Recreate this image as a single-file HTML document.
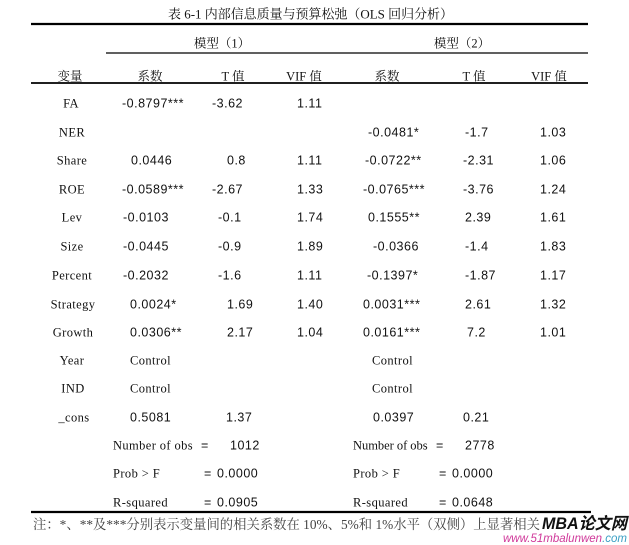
<!DOCTYPE html>
<html><head><meta charset="utf-8"><style>
html,body{margin:0;padding:0;background:#fff;}
svg{display:block;}
.s{font-family:"Liberation Serif","Noto Serif CJK SC",serif;font-size:12.5px;fill:#111;letter-spacing:0.4px;}
.c{font-family:"Liberation Serif","Noto Serif CJK SC",serif;font-size:12.5px;fill:#111;}
.n{font-family:"Liberation Sans",sans-serif;font-size:12.5px;fill:#111;letter-spacing:0.5px;}
.t{font-family:"Liberation Serif","Noto Serif CJK SC",serif;font-size:13px;fill:#111;}
.note{font-family:"Liberation Serif","Noto Serif CJK SC",serif;font-size:13.5px;fill:#444;}
</style></head><body>
<svg width="629" height="545" viewBox="0 0 629 545" xmlns="http://www.w3.org/2000/svg">
<rect width="629" height="545" fill="#fff"/>
<text class="t" x="168" y="18.5" textLength="285" lengthAdjust="spacingAndGlyphs">表 6-1 内部信息质量与预算松弛（OLS 回归分析）</text>
<line x1="31" y1="24" x2="588" y2="24" stroke="#000" stroke-width="2.2"/>
<text class="c" x="222" y="47.5" text-anchor="middle">模型（1）</text>
<text class="c" x="462" y="47.5" text-anchor="middle">模型（2）</text>
<line x1="106" y1="53" x2="588" y2="53" stroke="#000" stroke-width="1.3"/>
<text class="c" x="70" y="80.5" text-anchor="middle">变量</text>
<text class="c" x="150" y="80.5" text-anchor="middle">系数</text>
<text class="c" x="233" y="80.5" text-anchor="middle">T 值</text>
<text class="c" x="304" y="80.5" text-anchor="middle">VIF 值</text>
<text class="c" x="387" y="80.5" text-anchor="middle">系数</text>
<text class="c" x="474" y="80.5" text-anchor="middle">T 值</text>
<text class="c" x="549" y="80.5" text-anchor="middle">VIF 值</text>
<line x1="31" y1="83" x2="588" y2="83" stroke="#000" stroke-width="1.7"/>

<g class="s" text-anchor="middle">
<text x="71" y="107.5">FA</text>
<text x="72" y="136.5">NER</text>
<text x="72" y="164.5">Share</text>
<text x="72" y="193.5">ROE</text>
<text x="72" y="221.5">Lev</text>
<text x="72" y="250.5">Size</text>
<text x="72" y="279.5">Percent</text>
<text x="73" y="308.5">Strategy</text>
<text x="73" y="336.5">Growth</text>
<text x="72" y="364.5">Year</text>
<text x="73" y="392.5">IND</text>
<text x="74" y="421.5">_cons</text>
</g>

<g class="n">
<text x="122" y="107.5">-0.8797***</text>
<text x="131" y="164.5">0.0446</text>
<text x="122" y="193.5">-0.0589***</text>
<text x="123" y="221.5">-0.0103</text>
<text x="123" y="250.5">-0.0445</text>
<text x="123" y="279.5">-0.2032</text>
<text x="130" y="308.5">0.0024*</text>
<text x="130" y="336.5">0.0306**</text>
<text x="130" y="421.5">0.5081</text>
</g>
<text class="s" x="130" y="364.5">Control</text>
<text class="s" x="130" y="392.5">Control</text>

<g class="n">
<text x="212" y="107.5">-3.62</text>
<text x="227" y="164.5">0.8</text>
<text x="212" y="193.5">-2.67</text>
<text x="218" y="221.5">-0.1</text>
<text x="218" y="250.5">-0.9</text>
<text x="218" y="279.5">-1.6</text>
<text x="227" y="308.5">1.69</text>
<text x="227" y="336.5">2.17</text>
<text x="226" y="421.5">1.37</text>
</g>

<g class="n">
<text x="297" y="107.5">1.11</text>
<text x="297" y="164.5">1.11</text>
<text x="297" y="193.5">1.33</text>
<text x="297" y="221.5">1.74</text>
<text x="297" y="250.5">1.89</text>
<text x="297" y="279.5">1.11</text>
<text x="297" y="308.5">1.40</text>
<text x="297" y="336.5">1.04</text>
</g>

<g class="n">
<text x="368" y="136.5">-0.0481*</text>
<text x="365" y="164.5">-0.0722**</text>
<text x="363" y="193.5">-0.0765***</text>
<text x="368" y="221.5">0.1555**</text>
<text x="373" y="250.5">-0.0366</text>
<text x="367" y="279.5">-0.1397*</text>
<text x="363" y="308.5">0.0031***</text>
<text x="363" y="336.5">0.0161***</text>
<text x="373" y="421.5">0.0397</text>
</g>
<text class="s" x="372" y="364.5">Control</text>
<text class="s" x="372" y="392.5">Control</text>

<g class="n">
<text x="465" y="136.5">-1.7</text>
<text x="463" y="164.5">-2.31</text>
<text x="463" y="193.5">-3.76</text>
<text x="465" y="221.5">2.39</text>
<text x="465" y="250.5">-1.4</text>
<text x="465" y="279.5">-1.87</text>
<text x="465" y="308.5">2.61</text>
<text x="467" y="336.5">7.2</text>
<text x="463" y="421.5">0.21</text>
</g>

<g class="n">
<text x="540" y="136.5">1.03</text>
<text x="540" y="164.5">1.06</text>
<text x="540" y="193.5">1.24</text>
<text x="540" y="221.5">1.61</text>
<text x="540" y="250.5">1.83</text>
<text x="540" y="279.5">1.17</text>
<text x="540" y="308.5">1.32</text>
<text x="540" y="336.5">1.01</text>
</g>

<g class="s">
<text x="113" y="449.5" textLength="80" lengthAdjust="spacing">Number of obs</text>
<text x="113" y="477.5">Prob &gt; F</text>
<text x="113" y="506.5">R-squared</text>
<text x="353" y="449.5" textLength="75" lengthAdjust="spacing">Number of obs</text>
<text x="353" y="477.5">Prob &gt; F</text>
<text x="353" y="506.5">R-squared</text>
</g>
<g class="n">
<text x="201" y="449.5">=</text>
<text x="230" y="449.5">1012</text>
<text x="204" y="477.5">=</text>
<text x="217" y="477.5">0.0000</text>
<text x="204" y="506.5">=</text>
<text x="217" y="506.5">0.0905</text>
<text x="436" y="449.5">=</text>
<text x="465" y="449.5">2778</text>
<text x="439" y="477.5">=</text>
<text x="452" y="477.5">0.0000</text>
<text x="439" y="506.5">=</text>
<text x="452" y="506.5">0.0648</text>
</g>

<line x1="31" y1="512" x2="591" y2="512" stroke="#000" stroke-width="2.2"/>

<text class="note" x="33" y="529" textLength="507" lengthAdjust="spacingAndGlyphs">注：*、**及***分别表示变量间的相关系数在 10%、5%和 1%水平（双侧）上显著相关</text>

<text x="542" y="529" font-family="Liberation Sans,Noto Sans CJK SC,sans-serif" font-size="16.5" font-weight="bold" font-style="italic" fill="#111" textLength="85" lengthAdjust="spacingAndGlyphs">MBA论文网</text>
<text x="503" y="542" font-family="Liberation Sans,sans-serif" font-size="11.5" font-style="italic" textLength="124" lengthAdjust="spacingAndGlyphs"><tspan fill="#d0389a">www.51mbalunwen</tspan><tspan fill="#3a9fc4">.com</tspan></text>
</svg>
</body></html>
